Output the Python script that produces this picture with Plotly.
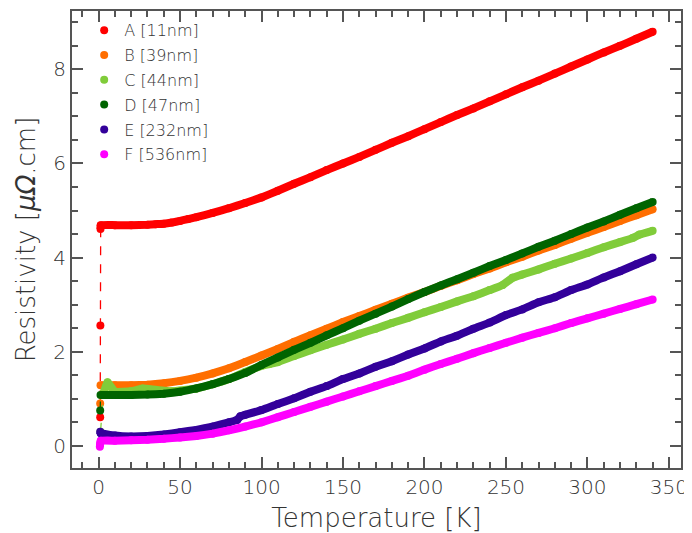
import plotly.graph_objects as go

# ---- data ----
labels = ["A [11nm]", "B [39nm]", "C [44nm]", "D [47nm]", "E [232nm]", "F [536nm]"]
colors = ["#ff0000", "#ff6e00", "#80cc3a", "#006400", "#33009a", "#ff00ff"]

T_main = [10, 20, 30, 40, 50, 60, 70, 80, 90, 100, 110, 120, 130, 140, 150, 160, 170,
          180, 190, 200, 210, 220, 230, 240, 250, 260, 270, 280, 290, 300, 310, 320,
          330, 340]

A_T = [1.0, 1.1, 1.2, 1.3, 10, 20, 30, 35, 40, 45, 50, 55, 60, 70, 80, 90, 100, 110,
       120, 130, 140, 150, 160, 170, 180, 190, 200, 210, 220, 230, 240, 250, 260, 270,
       280, 290, 300, 310, 320, 330, 340]
A_R = [0.61, 2.56, 4.61, 4.69, 4.69, 4.69, 4.70, 4.71, 4.72, 4.745, 4.78, 4.82, 4.86,
       4.95, 5.05, 5.16, 5.28, 5.42, 5.57, 5.71, 5.86, 6.00, 6.14, 6.29, 6.44, 6.58,
       6.73, 6.88, 7.03, 7.17, 7.32, 7.47, 7.62, 7.76, 7.91, 8.06, 8.21, 8.36, 8.50,
       8.65, 8.80]

B_T = [1.0, 1.2] + T_main
B_R = [0.90, 1.29,
       1.29, 1.29, 1.30, 1.33, 1.38, 1.45, 1.54, 1.65, 1.78, 1.92, 2.06, 2.21, 2.35,
       2.49, 2.63, 2.76, 2.89, 3.02, 3.15, 3.27, 3.40, 3.52, 3.65, 3.77, 3.90, 4.02,
       4.15, 4.27, 4.40, 4.53, 4.65, 4.78, 4.90, 5.03]

C_T = [1.2, 3, 5.5, 10, 20, 27, 35, 45, 60, 70, 80, 90, 100, 105, 110, 120, 130, 140,
       150, 160, 170, 180, 190, 200, 210, 220, 230, 240, 248, 254, 260, 270, 280, 290,
       300, 310, 320, 328, 332, 340]
C_R = [0.30, 1.12, 1.35, 1.15, 1.16, 1.22, 1.19, 1.16, 1.22, 1.31, 1.42, 1.57, 1.70,
       1.74, 1.78, 1.91, 2.03, 2.15, 2.26, 2.38, 2.49, 2.61, 2.72, 2.84, 2.95, 3.07,
       3.18, 3.31, 3.42, 3.57, 3.64, 3.75, 3.87, 3.98, 4.10, 4.22, 4.33, 4.42, 4.49,
       4.57]

D_T = [1.0, 1.2] + T_main
D_R = [0.75, 1.08,
       1.08, 1.08, 1.09, 1.11, 1.15, 1.22, 1.31, 1.42, 1.55, 1.72, 1.88, 2.04, 2.19,
       2.35, 2.50, 2.66, 2.81, 2.96, 3.12, 3.27, 3.41, 3.54, 3.68, 3.82, 3.95, 4.09,
       4.23, 4.36, 4.50, 4.64, 4.77, 4.91, 5.05, 5.18]

E_T = [1.0, 1.3, 10, 20, 30, 40, 50, 60, 70, 80, 85, 87, 90, 100, 110, 120, 130, 140,
       150, 160, 170, 180, 190, 200, 210, 220, 230, 240, 250, 260, 270, 280, 290, 300,
       310, 320, 330, 340]
E_R = [0.30, 0.27, 0.22, 0.20, 0.21, 0.24, 0.29, 0.34, 0.41, 0.50, 0.55, 0.63, 0.66,
       0.76, 0.89, 1.01, 1.15, 1.27, 1.42, 1.54, 1.68, 1.80, 1.94, 2.07, 2.22, 2.34,
       2.49, 2.62, 2.78, 2.90, 3.05, 3.16, 3.31, 3.43, 3.58, 3.71, 3.86, 4.00]

F_T = [0.8, 1.0, 1.3] + T_main
F_R = [-0.02, 0.05, 0.11,
       0.11, 0.12, 0.13, 0.15, 0.18, 0.21, 0.26, 0.33, 0.41, 0.50, 0.61, 0.72, 0.83,
       0.94, 1.05, 1.16, 1.27, 1.38, 1.49, 1.62, 1.74, 1.85, 1.97, 2.08, 2.19, 2.30,
       2.40, 2.50, 2.61, 2.71, 2.81, 2.91, 3.01, 3.11]

series_T = [A_T, B_T, C_T, D_T, E_T, F_T]
series_R = [A_R, B_R, C_R, D_R, E_R, F_R]

x_ticks = [0, 50, 100, 150, 200, 250, 300, 350]
y_ticks = [0, 2, 4, 6, 8]

FONT = "DejaVu Sans ExtraLight, DejaVu Sans, sans-serif"
AXC = "#555555"

fig = go.Figure()
for lab, col, T, R in zip(labels, colors, series_T, series_R):
    # thin dashed connector through all points
    fig.add_trace(go.Scatter(x=T, y=R, mode="lines", showlegend=False,
                             line=dict(color=col, width=1.3, dash="dash"),
                             hoverinfo="skip"))
    # dense body of the curve (skip the sparse jump points)
    start = 0
    while start < len(R) - 1 and abs(R[start + 1] - R[start]) > 0.25 and T[start] < 2:
        start += 1
    fig.add_trace(go.Scatter(x=T[start:], y=R[start:], mode="lines", showlegend=False,
                             line=dict(color=col, width=8, shape="spline", smoothing=0.3),
                             hoverinfo="skip"))
    fig.add_trace(go.Scatter(x=T, y=R, mode="markers", name=lab, legendgroup=lab,
                             marker=dict(color=col, size=8, line=dict(width=0))))

axis_common = dict(showline=True, linecolor=AXC, linewidth=2, mirror="allticks",
                   ticks="inside", ticklen=11, tickwidth=1.5, tickcolor=AXC,
                   showgrid=False, zeroline=False,
                   tickfont=dict(family=FONT, size=20, color="#333333", weight=200),
                   minor=dict(ticks="inside", ticklen=6, tickwidth=1.5, tickcolor=AXC))

fig.update_xaxes(range=[-16.3, 357.4], tickvals=x_ticks,
                 minor_dtick=10,
                 title=dict(text="Temperature [K]", standoff=11,
                            font=dict(family=FONT, size=26, color="#333333", weight=200)),
                 **axis_common)
fig.update_yaxes(range=[-0.47, 9.24], tickvals=y_ticks,
                 minor_dtick=0.5,
                 title=dict(text="Resistivity [<i>μΩ</i>.cm]", standoff=10,
                            font=dict(family=FONT, size=26, color="#333333", weight=200)),
                 **axis_common)

# the page body adds an 8 px offset, so the figure is sized to fit the window
fig.update_layout(
    width=684, height=525,
    margin=dict(l=64, r=11, t=1, b=65),
    plot_bgcolor="white", paper_bgcolor="white",
    legend=dict(x=0.02, y=0.995, xanchor="left", yanchor="top",
                bgcolor="rgba(0,0,0,0)", borderwidth=0,
                font=dict(family=FONT, size=16, color="#333333", weight=200),
                itemsizing="trace", traceorder="grouped", tracegroupgap=1),
)

fig.write_html("out.html")
